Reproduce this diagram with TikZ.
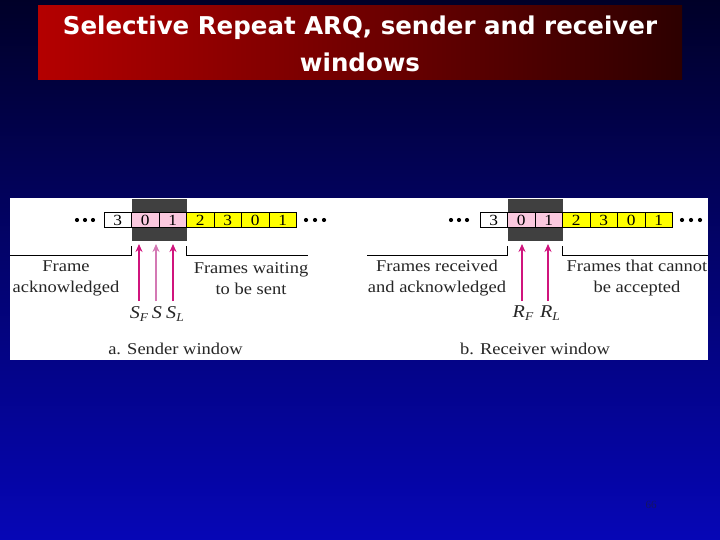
\documentclass[tikz,border=0pt]{standalone}
\usepackage{fontspec}
\setmainfont{Liberation Serif}
\newfontfamily\figfont[FakeStretch=1.12]{Liberation Serif}
\newfontfamily\titlefont{DejaVu Sans}
\usetikzlibrary{arrows.meta}
\definecolor{bgtop}{RGB}{0,0,40}
\definecolor{bgbot}{RGB}{6,6,182}
\definecolor{titleL}{RGB}{180,0,0}
\definecolor{titleR}{RGB}{45,0,0}
\definecolor{darkbox}{RGB}{64,64,64}
\definecolor{pinkcell}{RGB}{250,200,222}
\definecolor{yellowcell}{RGB}{255,255,0}
\definecolor{magarrow}{RGB}{208,20,125}
\definecolor{lightarrow}{RGB}{212,120,180}
\definecolor{pagenum}{RGB}{20,20,100}
\tikzset{
  cellbox/.style={draw=black, line width=0.6pt, minimum width=27.5pt, minimum height=15pt, inner sep=0pt, font=\figfont\fontsize{15.5}{15.5}\selectfont},
  whitecell/.style={cellbox, fill=white},
  pinkbox/.style={cellbox, fill=pinkcell},
  yellowbox/.style={cellbox, fill=yellowcell},
  figtext/.style={font=\figfont\fontsize{16.5}{21}\selectfont, align=center, inner sep=0pt, text=black!85},
  ptr/.style={line width=1.2pt, -{Stealth[length=8pt,width=7pt]}},
  dotmark/.style={fill=black, circle, inner sep=0pt, minimum size=4.2pt},
  bracket/.style={line width=0.8pt, black},
  titletext/.style={text=white, font=\titlefont\bfseries\fontsize{24.5}{24.5}\selectfont, inner sep=0pt}
}
\newcommand{\ptrlabel}[2]{\textit{#1}\raisebox{-3pt}{\fontsize{12}{12}\selectfont\textit{#2}}}
\begin{document}
\begin{tikzpicture}[x=1pt,y=-1pt]
\useasboundingbox (0,0) rectangle (720,540);
\shade[top color=bgtop, bottom color=bgbot] (0,0) rectangle (720,540);
\shade[left color=titleL, right color=titleR] (38,6) rectangle (682,80);
\node[titletext] (t1) at (360,28) {Selective Repeat ARQ, sender and receiver};
\node[titletext] (t2) at (360,62) {windows};
\fill[white] (10,198) rectangle (708,360);

% ---------- Sender window ----------
\fill[darkbox] (131.5,199) rectangle (186.5,241);
\node[whitecell]  (a0) at (117.75,220) {3};
\node[pinkbox]    (a1) at (145.25,220) {0};
\node[pinkbox]    (a2) at (172.75,220) {1};
\node[yellowbox]  (a3) at (200.25,220) {2};
\node[yellowbox]  (a4) at (227.75,220) {3};
\node[yellowbox]  (a5) at (255.25,220) {0};
\node[yellowbox]  (a6) at (282.75,220) {1};
\node[dotmark] (ad1) at (77,220) {};
\node[dotmark] (ad2) at (85,220) {};
\node[dotmark] (ad3) at (93,220) {};
\node[dotmark] (ad4) at (306,220) {};
\node[dotmark] (ad5) at (315,220) {};
\node[dotmark] (ad6) at (324,220) {};
\draw[bracket] (10,255) -- (131.5,255) -- (131.5,246);
\draw[bracket] (186.5,246) -- (186.5,255) -- (308,255);
\node[figtext] (al) at (66,278.5) {Frame\\acknowledged};
\node[figtext] (ar) at (251,278.5) {Frames waiting\\to be sent};
\node[figtext, anchor=north, font=\figfont\fontsize{18}{18}\selectfont] (sf) at (139,306) {\ptrlabel{S}{F}};
\node[figtext, anchor=north, font=\figfont\fontsize{18}{18}\selectfont] (ss) at (157,306) {\textit{S}};
\node[figtext, anchor=north, font=\figfont\fontsize{18}{18}\selectfont] (sl) at (175,306) {\ptrlabel{S}{L}};
\coordinate (sft) at (139,244);
\coordinate (sst) at (156,244);
\coordinate (slt) at (173,244);
\draw[ptr, magarrow] (139,301) -- (sft);
\draw[ptr, lightarrow] (156,301) -- (sst);
\draw[ptr, magarrow] (173,301) -- (slt);
\node[figtext] (acap) at (175.5,349) {a. Sender window};

% ---------- Receiver window ----------
\fill[darkbox] (507.5,199) rectangle (562.5,241);
\node[whitecell]  (b0) at (493.75,220) {3};
\node[pinkbox]    (b1) at (521.25,220) {0};
\node[pinkbox]    (b2) at (548.75,220) {1};
\node[yellowbox]  (b3) at (576.25,220) {2};
\node[yellowbox]  (b4) at (603.75,220) {3};
\node[yellowbox]  (b5) at (631.25,220) {0};
\node[yellowbox]  (b6) at (658.75,220) {1};
\node[dotmark] (bd1) at (451,220) {};
\node[dotmark] (bd2) at (459,220) {};
\node[dotmark] (bd3) at (467,220) {};
\node[dotmark] (bd4) at (682,220) {};
\node[dotmark] (bd5) at (691,220) {};
\node[dotmark] (bd6) at (700,220) {};
\draw[bracket] (367,255) -- (507.5,255) -- (507.5,246);
\draw[bracket] (562.5,246) -- (562.5,255) -- (708,255);
\node[figtext] (bl) at (437,278.5) {Frames received\\and acknowledged};
\begin{scope}
\clip (10,198) rectangle (708,360);
\node[figtext] (br) at (637,278.5) {Frames that cannot\\be accepted};
\end{scope}
\node[figtext, anchor=north, font=\figfont\fontsize{18}{18}\selectfont] (rf) at (523,306) {\ptrlabel{R}{F}};
\node[figtext, anchor=north, font=\figfont\fontsize{18}{18}\selectfont] (rl) at (550,306) {\ptrlabel{R}{L}};
\coordinate (rft) at (522,244);
\coordinate (rlt) at (548,244);
\draw[ptr, magarrow] (522,301) -- (rft);
\draw[ptr, magarrow] (548,301) -- (rlt);
\node[figtext] (bcap) at (535,349) {b. Receiver window};

\node[text=pagenum, font=\fontsize{11}{11}\selectfont, inner sep=0pt] (pg) at (651,505) {66};
\end{tikzpicture}
\end{document}
